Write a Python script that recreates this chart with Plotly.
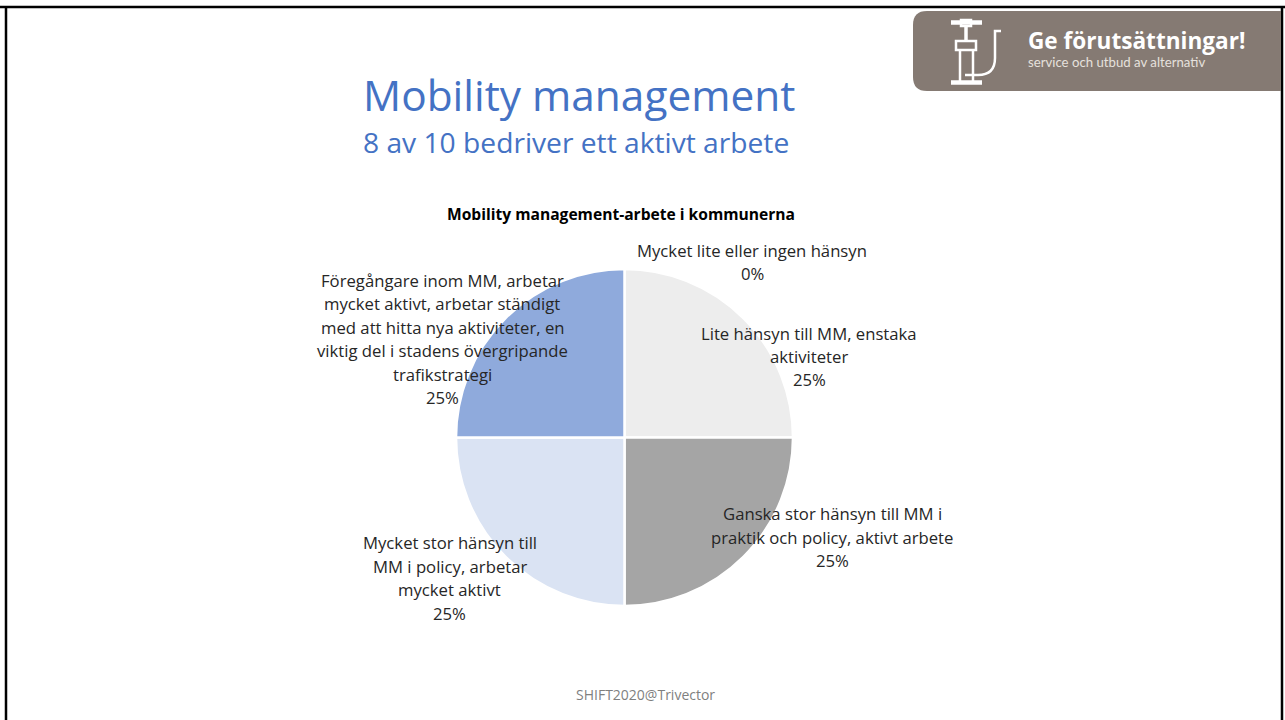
import plotly.graph_objects as go

W, H = 1285, 720

categories = [
    "Mycket lite eller ingen hänsyn",
    "Lite hänsyn till MM, enstaka aktiviteter",
    "Ganska stor hänsyn till MM i praktik och policy, aktivt arbete",
    "Mycket stor hänsyn till MM i policy, arbetar mycket aktivt",
    "Föregångare inom MM, arbetar mycket aktivt, arbetar ständigt med att hitta nya aktiviteter, en viktig del i stadens övergripande trafikstrategi",
]
values = [0, 25, 25, 25, 25]
colors = ["#7F7F7F", "#EDEDED", "#A5A5A5", "#DAE3F3", "#8FAADC"]
label_lines = [
    ["Mycket lite eller ingen hänsyn"],
    ["Lite hänsyn till MM, enstaka", "aktiviteter"],
    ["Ganska stor hänsyn till MM i", "praktik och policy, aktivt arbete"],
    ["Mycket stor hänsyn till", "MM i policy, arbetar", "mycket aktivt"],
    ["Föregångare inom MM, arbetar", "mycket aktivt, arbetar ständigt", "med att hitta nya aktiviteter, en",
     "viktig del i stadens övergripande", "trafikstrategi"],
]
label_centers = [(752, 262), (809, 356.5), (832, 537), (450, 578), (442, 339)]

LABEL_FONT = "Open Sans, sans-serif"
SMALL_FONT = "Lato, sans-serif"
TITLE_FONT = "Open Sans, sans-serif"
BLUE = "#4472C4"
BADGE = "#857A73"
INK = "#262626"


def px(x):
    return x / W


def py(y):
    return 1 - y / H


def text(x, y, s, size, color=INK, family=LABEL_FONT, anchor="center", bold=False):
    return dict(
        x=px(x), y=py(y), xref="paper", yref="paper", text=f"<b>{s}</b>" if bold else s,
        showarrow=False, xanchor=anchor, yanchor="middle", align="center",
        font=dict(size=size, color=color, family=family),
    )


def line(x0, y0, x1, y1, w, color="#FFFFFF"):
    return dict(type="line", xref="paper", yref="paper", x0=px(x0), y0=py(y0), x1=px(x1), y1=py(y1),
                line=dict(color=color, width=w))


def rect(x0, y0, x1, y1, fill=None, lw=0, lc="#FFFFFF"):
    return dict(type="rect", xref="paper", yref="paper", x0=px(x0), y0=py(y0), x1=px(x1), y1=py(y1),
                fillcolor=fill or "rgba(0,0,0,0)", line=dict(color=lc, width=lw))


def path(points, fill=None, lw=0, lc="#FFFFFF"):
    d = ""
    for cmd, *xy in points:
        d += cmd
        d += " ".join(f"{px(xy[i]):.5f},{py(xy[i + 1]):.5f}" for i in range(0, len(xy), 2))
        d += " "
    return dict(type="path", xref="paper", yref="paper", path=d.strip(),
                fillcolor=fill or "rgba(0,0,0,0)", line=dict(color=lc, width=lw))


fig = go.Figure(go.Pie(
    labels=categories, values=values, sort=False, direction="clockwise", rotation=0,
    marker=dict(colors=colors, line=dict(color="#FFFFFF", width=2.5)),
    textinfo="none", hoverinfo="label+percent", showlegend=False,
    domain=dict(x=[px(456), px(793)], y=[py(606), py(269)]),
))

shapes = [
    # slide frame
    line(0, 7, W, 7, 2.5, "#000000"),
    line(6, 7, 6, H, 2.5, "#000000"),
    line(1282, 7, 1282, H, 2.5, "#000000"),
    # badge
    path([("M", 1281, 11), ("L", 927, 11), ("Q", 913, 11, 913, 25), ("L", 913, 77),
          ("Q", 913, 91, 927, 91), ("L", 1281, 91), ("Z",)], fill=BADGE),
    # pump icon
    line(951, 22.5, 982, 22.5, 4.5),
    rect(961, 20, 971, 26, lw=2.5),
    line(966, 26, 966, 41, 3.5),
    rect(956, 41, 976, 50, lw=2.5),
    line(960, 50, 960, 82, 2.5),
    line(973, 50, 973, 82, 2.5),
    line(951, 82.5, 982, 82.5, 4.5),
    path([("M", 1001, 31), ("L", 995, 31), ("L", 995, 58),
          ("Q", 995, 75, 978, 75), ("L", 965, 75)], lw=2.5),
]

annotations = [
    text(579, 95, "Mobility management", 42.4, BLUE, TITLE_FONT),
    text(575.5, 142, "8 av 10 bedriver ett aktivt arbete", 28.2, BLUE, TITLE_FONT),
    text(620.5, 214, "Mobility management-arbete i kommunerna", 15.6, "#000000", TITLE_FONT, bold=True),
    text(1026, 40, "Ge förutsättningar!", 22.6, "#FFFFFF", TITLE_FONT, "left", True),
    text(1026, 62, "service och utbud av alternativ", 13.2, "#E6E1DD", SMALL_FONT, "left"),
    text(645, 694, "SHIFT2020@Trivector", 14, "#7F7F7F", LABEL_FONT),
]
for lines, (cx, cy), v in zip(label_lines, label_centers, values):
    all_lines = lines + [f"{v}%"]
    n = len(all_lines)
    for i, s in enumerate(all_lines):
        annotations.append(text(cx, cy + (i - (n - 1) / 2) * 23.4, s, 16.7))

fig.update_layout(
    width=W, height=H, margin=dict(l=0, r=0, t=0, b=0),
    paper_bgcolor="#FFFFFF", plot_bgcolor="#FFFFFF",
    shapes=shapes, annotations=annotations,
)

fig.write_html("out.html", config={"displayModeBar": False},
               post_script="document.body.style.margin='0';document.body.style.overflow='hidden';")
